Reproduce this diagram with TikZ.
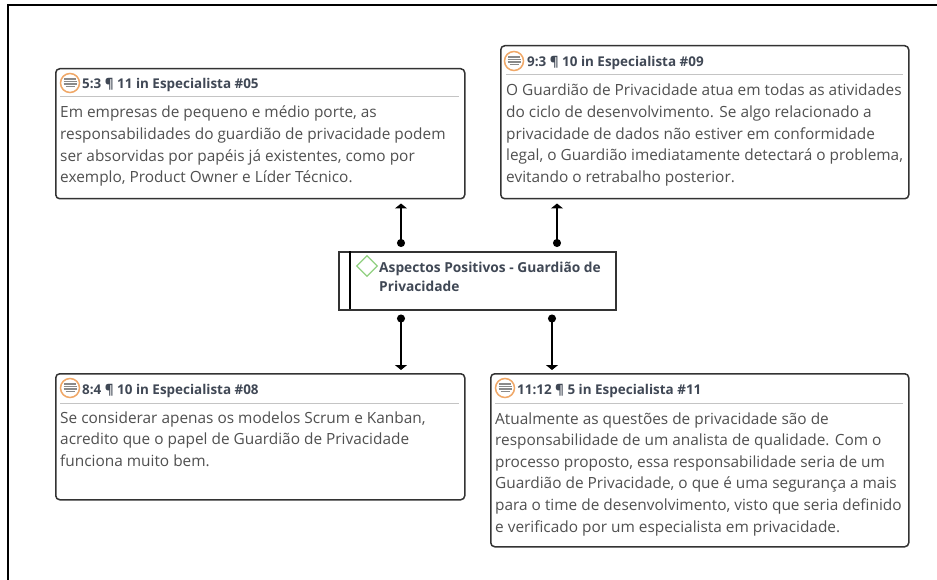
\documentclass[tikz,border=0pt]{standalone}
\usepackage{fontspec}
\setmainfont{Open Sans}
\usetikzlibrary{arrows.meta,calc,shapes.geometric}
\definecolor{bodytxt}{HTML}{505050}
\definecolor{headtxt}{HTML}{404855}
\definecolor{iconor}{HTML}{F0A868}
\definecolor{icongr}{HTML}{8A8A8A}
\definecolor{rulegr}{HTML}{C4C4C4}
\definecolor{edgedk}{HTML}{333333}
\definecolor{diamgr}{HTML}{90D080}
\tikzset{
  x=1pt,y=-1pt,
  quotebox/.style={draw=edgedk,line width=1.5pt,rounded corners=4pt,fill=white,anchor=north west,inner sep=0pt,minimum width=#1},
  headtext/.style={anchor=base west,inner sep=0pt,font=\fontsize{13.45}{14}\selectfont\bfseries,text=headtxt},
  bodytext/.style={anchor=base west,inner sep=0pt,align=left,font=\fontsize{15.4}{21.6}\selectfont,text=bodytxt},
  hrule/.style={draw=rulegr,line width=1pt},
  link/.style={draw=black,line width=1.2pt,{Circle[length=8pt]}-{Triangle[length=5pt,width=12pt]}},
  docicon/.style={circle,draw=iconor,line width=1.5pt,fill=white,minimum size=19pt,inner sep=0pt},
}
\newcommand{\docglyph}[1]{%
  \foreach \dy/\hw in {-4/6,-1.5/6.5,1/6.5,3.5/4.5}{
    \draw[icongr,line width=1.3pt] ($(#1)+(-\hw,\dy)$) -- ($(#1)+(\hw,\dy)$);
  }}
\begin{document}
\begin{tikzpicture}
\useasboundingbox (0,0) rectangle (937,580);
\fill[white] (0,0) rectangle (937,580);
\coordinate (fa) at (8,580);
\coordinate (fb) at (8,5);
\coordinate (fc) at (937,5);
\draw[black,line width=1.4pt] (fa) -- (fb) -- (fc);

% boxes
\node[quotebox=409pt,minimum height=130pt] (boxA) at (55,68) {};
\node[quotebox=408pt,minimum height=153pt] (boxB) at (500,45) {};
\node[quotebox=409pt,minimum height=126pt] (boxC) at (55,373) {};
\node[quotebox=418pt,minimum height=173pt] (boxD) at (490,373) {};
\node[draw=edgedk,line width=1.5pt,fill=white,anchor=north west,inner sep=0pt,minimum width=277pt,minimum height=58pt] (guard) at (338,251) {};
\coordinate (gsplitT) at (350,251);
\coordinate (gsplitB) at (350,309);
\draw[black,line width=1.2pt] (gsplitT) -- (gsplitB);

% headers
\node[docicon] (iconA) at (70,83) {}; \docglyph{iconA}
\node[headtext] (headA) at (82,89) {5:3 ¶ 11 in Especialista \#05};
\coordinate (ruleAa) at (60,97); \coordinate (ruleAb) at (459,97);
\draw[hrule] (ruleAa) -- (ruleAb);
\node[bodytext] (textA) at (60,182.8) {Em empresas de pequeno e médio porte, as\\responsabilidades do guardião de privacidade podem\\ser absorvidas por papéis já existentes, como por\\exemplo, Product Owner e Líder Técnico.};

\node[docicon] (iconB) at (514,61) {}; \docglyph{iconB}
\node[headtext] (headB) at (527,67) {9:3 ¶ 10 in Especialista \#09};
\coordinate (ruleBa) at (506,75); \coordinate (ruleBb) at (903,75);
\draw[hrule] (ruleBa) -- (ruleBb);
\node[bodytext] (textB) at (506,182.4) {O Guardião de Privacidade atua em todas as atividades\\do ciclo de desenvolvimento. Se algo relacionado a\\privacidade de dados não estiver em conformidade\\legal, o Guardião imediatamente detectará o problema,\\evitando o retrabalho posterior.};

\node[docicon] (iconC) at (70,388) {}; \docglyph{iconC}
\node[headtext] (headC) at (82,394) {8:4 ¶ 10 in Especialista \#08};
\coordinate (ruleCa) at (60,403); \coordinate (ruleCb) at (459,403);
\draw[hrule] (ruleCa) -- (ruleCb);
\node[bodytext] (textC) at (60,466.2) {Se considerar apenas os modelos Scrum e Kanban,\\acredito que o papel de Guardião de Privacidade\\funciona muito bem.};

\node[docicon] (iconD) at (505,388) {}; \docglyph{iconD}
\node[headtext] (headD) at (517,394) {11:12 ¶ 5 in Especialista \#11};
\coordinate (ruleDa) at (495,403); \coordinate (ruleDb) at (903,403);
\draw[hrule] (ruleDa) -- (ruleDb);
\node[bodytext] (textD) at (495,532) {Atualmente as questões de privacidade são de\\responsabilidade de um analista de qualidade. Com o\\processo proposto, essa responsabilidade seria de um\\Guardião de Privacidade, o que é uma segurança a mais\\para o time de desenvolvimento, visto que seria definido\\e verificado por um especialista em privacidade.};

% central
\node[diamond,draw=diamgr,line width=1.3pt,minimum width=21pt,minimum height=21pt,inner sep=0pt] (diam) at (367,266) {};
\node[anchor=base west,inner sep=0pt,align=left,font=\fontsize{13.75}{19.5}\selectfont\bfseries,text=headtxt] (gtext) at (379,291.5) {Aspectos Positivos - Guardião de\\Privacidade};

% connectors
\coordinate (xA) at (401,0);
\coordinate (xB) at (557,0);
\coordinate (xC) at (401,0);
\coordinate (xD) at (552,0);
\draw[link,shorten <=4pt,shorten >=4pt] (xA |- guard.north) -- (xA |- boxA.south);
\draw[link,shorten <=4pt,shorten >=4pt] (xB |- guard.north) -- (xB |- boxB.south);
\draw[link,shorten <=4pt,shorten >=3pt] (xC |- guard.south) -- (xC |- boxC.north);
\draw[link,shorten <=4pt,shorten >=3pt] (xD |- guard.south) -- (xD |- boxD.north);
\end{tikzpicture}
\end{document}
